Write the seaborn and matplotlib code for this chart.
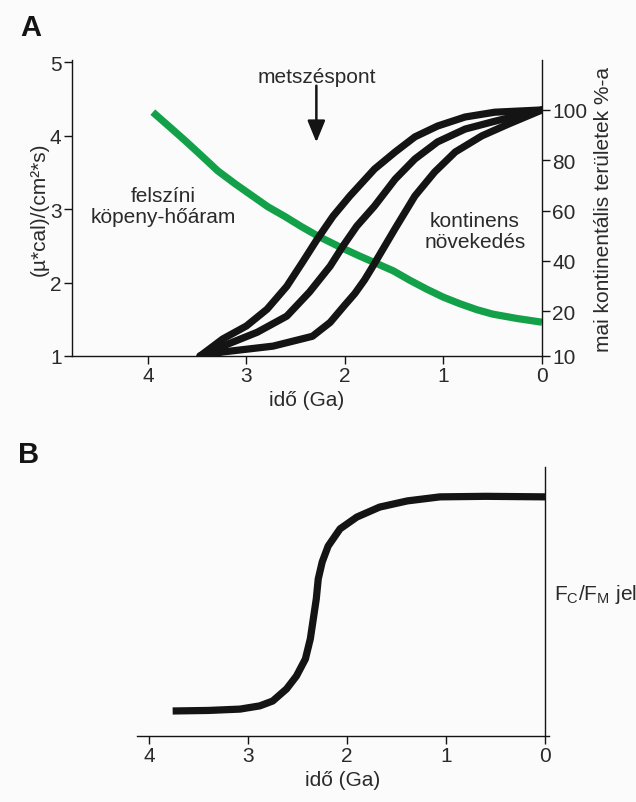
"""Panel A: heat flow vs continental growth; Panel B: F_C/F_M signal."""

import numpy as np
import matplotlib
matplotlib.use("Agg")
import matplotlib.pyplot as plt
import seaborn as sns

sns.set_theme(style="ticks")
matplotlib.rcParams['font.family'] = ['Liberation Sans', 'DejaVu Sans']
matplotlib.rcParams['axes.unicode_minus'] = False

# ---- data ----
# panel A, green: surface mantle heat flow, (µ*cal)/(cm²*s)
heat_age = [3.95, 3.78, 3.62, 3.45, 3.29, 3.11, 2.94, 2.78, 2.61, 2.44, 2.27, 2.06,
            1.85, 1.68, 1.51, 1.34, 1.17, 1.00, 0.83, 0.66, 0.50, 0.25, 0.0]
heat_flow = [4.32, 4.12, 3.93, 3.72, 3.52, 3.34, 3.18, 3.03, 2.90, 2.76, 2.63, 2.49,
             2.36, 2.26, 2.16, 2.03, 1.91, 1.80, 1.71, 1.63, 1.57, 1.51, 1.46]

# panel A, black: continental growth, % of present continental area
growth1_age = [3.47, 3.24, 3.00, 2.79, 2.59, 2.43, 2.28, 2.12, 1.95, 1.70, 1.49, 1.29,
               1.06, 0.78, 0.48, 0.0]
growth1_pct = [10, 13.8, 16.7, 20.8, 29.9, 39.5, 48.7, 57.8, 65.8, 76.5, 83.3, 89.3,
               93.6, 97.2, 99.1, 100]
growth2_age = [3.47, 3.24, 2.89, 2.59, 2.36, 2.15, 2.02, 1.88, 1.70, 1.49, 1.29, 1.06,
               0.78, 0.48, 0.0]
growth2_pct = [10, 12.2, 15.3, 18.9, 27.6, 37.9, 45.9, 53.8, 61.8, 72.5, 80.5, 87.3,
               92.4, 95.5, 100]
growth3_age = [3.47, 3.24, 2.73, 2.33, 2.15, 2.00, 1.90, 1.80, 1.73, 1.49, 1.29, 1.09,
               0.88, 0.61, 0.34, 0.0]
growth3_pct = [10, 10.9, 12.2, 14.4, 17.5, 22.5, 27.0, 32.5, 37.0, 52.9, 65.8, 75.3,
               83.3, 89.7, 94.4, 100]

# panel B: F_C/F_M signal (relative units)
signal_age = [3.76, 3.40, 3.08, 2.88, 2.75, 2.61, 2.51, 2.42, 2.37, 2.34, 2.31, 2.29,
              2.25, 2.19, 2.07, 1.90, 1.67, 1.39, 1.06, 0.60, 0.0]
signal_val = [0.093, 0.095, 0.100, 0.112, 0.130, 0.175, 0.223, 0.286, 0.361, 0.435,
              0.509, 0.584, 0.647, 0.706, 0.770, 0.814, 0.851, 0.874, 0.889, 0.891, 0.889]

age_ticks = [4, 3, 2, 1, 0]
heat_ticks = [1, 2, 3, 4, 5]
pct_ticks = [10, 20, 40, 60, 80, 100]

GREEN = "#12a049"
INK = "#141414"
TXT = "#2a2a2a"
BG = "#fbfbfb"
FS = 15


def pct_forward(v):
    v = np.asarray(v, dtype=float)
    return np.where(v < 20, 1.0 + (v - 10) * 0.061, 1.61 + (v - 20) * 0.03425)


def pct_inverse(u):
    u = np.asarray(u, dtype=float)
    return np.where(u < 1.61, 10 + (u - 1.0) / 0.061, 20 + (u - 1.61) / 0.03425)


fig = plt.figure(figsize=(6.36, 8.03), dpi=100, facecolor=BG)

# ---------------- panel A ----------------
ax = fig.add_axes([72 / 636, 1 - 357 / 803, 470 / 636, 296 / 803])
ax.set_facecolor("none")
sns.lineplot(x=heat_age, y=heat_flow, color=GREEN, lw=5.2, sort=False,
             estimator=None, ax=ax, solid_capstyle="butt", solid_joinstyle="round")
ax.set_xlim(4.77, 0)
ax.set_ylim(1, 5.03)
ax.set_xticks(age_ticks)
ax.set_yticks(heat_ticks)
ax.set_xlabel("idő (Ga)", fontsize=FS, color=TXT, labelpad=3)
ax.set_ylabel("(µ*cal)/(cm²*s)", fontsize=FS, color=TXT, labelpad=1)
for s in ["top", "right"]:
    ax.spines[s].set_visible(False)

ax2 = ax.twinx()
ax2.set_facecolor("none")
ax2.set_yscale("function", functions=(pct_forward, pct_inverse))
for a, p in [(growth1_age, growth1_pct), (growth2_age, growth2_pct), (growth3_age, growth3_pct)]:
    sns.lineplot(x=a, y=p, color=INK, lw=5.2, sort=False, estimator=None, ax=ax2,
                 solid_capstyle="round", solid_joinstyle="round")
ax2.set_ylim(10, float(pct_inverse(5.03)))
ax2.set_xlim(4.77, 0)
ax2.set_yticks(pct_ticks)
ax2.set_yticklabels([str(t) for t in pct_ticks])
ax2.yaxis.set_minor_locator(matplotlib.ticker.NullLocator())
ax2.set_ylabel("mai kontinentális területek %-a", fontsize=FS, color=TXT, labelpad=5)
for s in ["top", "left", "bottom"]:
    ax2.spines[s].set_visible(False)

for a in (ax, ax2):
    a.tick_params(direction="out", length=5.5, width=1, labelsize=FS, colors=INK,
                  labelcolor=TXT, pad=2)
    for s in a.spines.values():
        s.set_color(INK)
        s.set_linewidth(1)

ax.text(3.84, 3.04, "felszíni\nköpeny-hőáram", ha="center", va="center",
        fontsize=FS, color=TXT, linespacing=1.1)
ax.text(0.68, 2.70, "kontinens\nnövekedés", ha="center", va="center",
        fontsize=FS, color=TXT, linespacing=1.1)
ax.annotate("", xy=(2.29, 3.91), xytext=(2.29, 4.68),
            arrowprops=dict(arrowstyle="-|>,head_length=1.1,head_width=0.45",
                            color=INK, lw=1.8, shrinkA=0, shrinkB=0))
ax.text(2.29, 4.80, "metszéspont", ha="center", va="center", fontsize=FS, color=TXT)

fig.text(20 / 636, 1 - 28 / 803, "A", fontsize=21, fontweight="bold", color=INK,
         ha="left", va="center")

# ---------------- panel B ----------------
bx = fig.add_axes([137 / 636, 1 - 737 / 803, 412 / 636, 269 / 803])
bx.set_facecolor("none")
sns.lineplot(x=signal_age, y=signal_val, color=INK, lw=5.2, sort=False,
             estimator=None, ax=bx, solid_capstyle="butt", solid_joinstyle="round")
bx.set_xlim(4.12, -0.04)
bx.set_ylim(0, 1)
bx.set_xticks(age_ticks)
bx.set_yticks([])
bx.spines["right"].set_position(("data", 0))
for s in ["top", "left"]:
    bx.spines[s].set_visible(False)
for s in bx.spines.values():
    s.set_color(INK)
    s.set_linewidth(1)
bx.tick_params(axis="x", direction="out", length=5.5, width=1, labelsize=FS,
               colors=INK, labelcolor=TXT, pad=2)
bx.set_xlabel("idő (Ga)", fontsize=FS, color=TXT, labelpad=3)
bx.yaxis.set_label_position("right")
bx.set_ylabel(r"F$_\mathregular{C}$/F$_\mathregular{M}$ jel", fontsize=FS, color=TXT,
              rotation=0, ha="left", va="center")
bx.yaxis.set_label_coords(1.012, 0.528)

fig.text(18 / 636, 1 - 455 / 803, "B", fontsize=21, fontweight="bold", color=INK,
         ha="left", va="center")

plt.savefig("out.png", dpi=100, facecolor=BG)
plt.close()
print("[Saved] out.png")
